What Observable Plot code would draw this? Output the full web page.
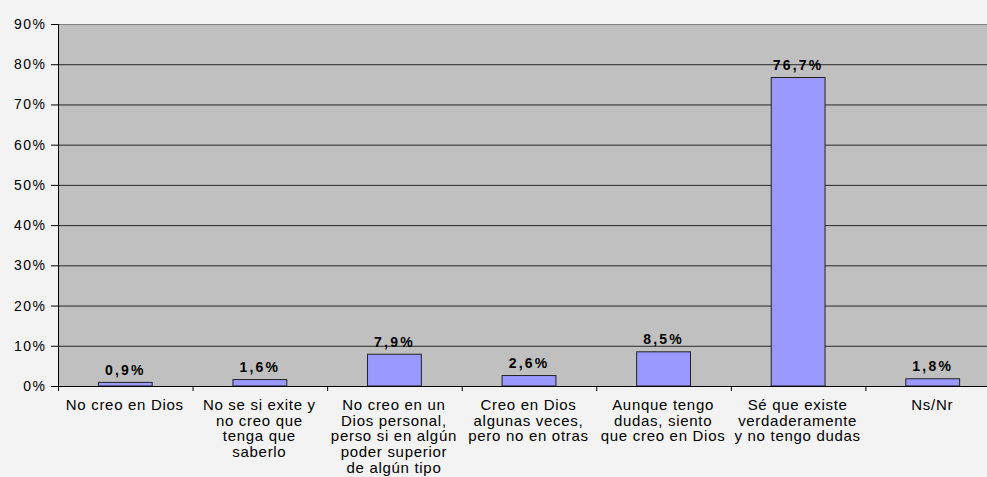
<!DOCTYPE html>
<html>
<head>
<meta charset="utf-8">
<script src="https://cdn.jsdelivr.net/npm/d3@7"></script>
<script src="https://cdn.jsdelivr.net/npm/@observablehq/plot@0.6"></script>
<style>
  html, body { margin: 0; padding: 0; background: #f3f3f3; overflow: hidden; }
  #chart svg { display: block; max-width: none !important; }
  #chart g[aria-label="y-axis tick label"] { letter-spacing: 1.5px; font-size: 14px; }
</style>
</head>
<body>
<div id="chart"></div>
<script>
const categories = [
  "No creo en Dios",
  "No se si exite y\nno creo que\ntenga que\nsaberlo",
  "No creo en un\nDios personal,\nperso si en algún\npoder superior\nde algún tipo",
  "Creo en Dios\nalgunas veces,\npero no en otras",
  "Aunque tengo\ndudas, siento\nque creo en Dios",
  "Sé que existe\nverdaderamente\ny no tengo dudas",
  "Ns/Nr"
];
const values = [0.9, 1.6, 7.9, 2.6, 8.5, 76.7, 1.8];
const valueLabels = ["0,9%", "1,6%", "7,9%", "2,6%", "8,5%", "76,7%", "1,8%"];
const yTicks = [0, 10, 20, 30, 40, 50, 60, 70, 80, 90];

const data = categories.map((c, i) => ({i, category: c, value: values[i], label: valueLabels[i]}));

const spaced = (px) => function (index, scales, values, dimensions, context, next) {
  const g = next(index, scales, values, dimensions, context);
  g.style.letterSpacing = px + "px";
  return g;
};

const chart = Plot.plot({
  width: 1000,
  height: 477,
  marginTop: 24,
  marginBottom: 91,
  marginLeft: 58,
  marginRight: 0,
  style: {background: "#f3f3f3", fontFamily: "'Liberation Sans', Arial, sans-serif", fontSize: "13px", color: "#000", maxWidth: "none"},
  x: {domain: [0, categories.length]},
  y: {domain: [0, 90]},
  marks: [
    Plot.frame({fill: "#c0c0c0", stroke: null}),
    Plot.gridY(yTicks.slice(1, -1), {stroke: "#000", strokeOpacity: 0.8, strokeWidth: 1}),
    Plot.ruleY([90], {stroke: "#808080", strokeWidth: 1}),
    Plot.rectY(data, {x1: d => d.i + 0.3, x2: d => d.i + 0.7, y: "value", fill: "#9999ff", stroke: "#222", strokeWidth: 1}),
    Plot.text(data, {x: d => d.i + 0.5, y: "value", text: "label", lineAnchor: "bottom", dy: -8, dx: -0.5, fontWeight: "bold", fontSize: 14, fill: "#000", render: spaced(2.2)}),
    Plot.axisY({ticks: yTicks, tickFormat: d => d + "%", tickSize: 7, tickPadding: 5, fontSize: 14, stroke: "#000", fill: "#000", label: null}),
    Plot.axisX({ticks: d3.range(categories.length + 1), tickFormat: () => "", tickSize: 5, stroke: "#000", label: null}),
    Plot.ruleX([0], {stroke: "#000"}),
    Plot.ruleY([0], {stroke: "#000"}),
    Plot.text(data, {x: d => d.i + 0.5, text: "category", frameAnchor: "bottom", lineAnchor: "top", dy: 12, dx: -1, lineHeight: 15.8 / 15, fontSize: 15, fill: "#000", render: spaced(0.7)})
  ]
});
document.getElementById("chart").appendChild(chart);
</script>
</body>
</html>
